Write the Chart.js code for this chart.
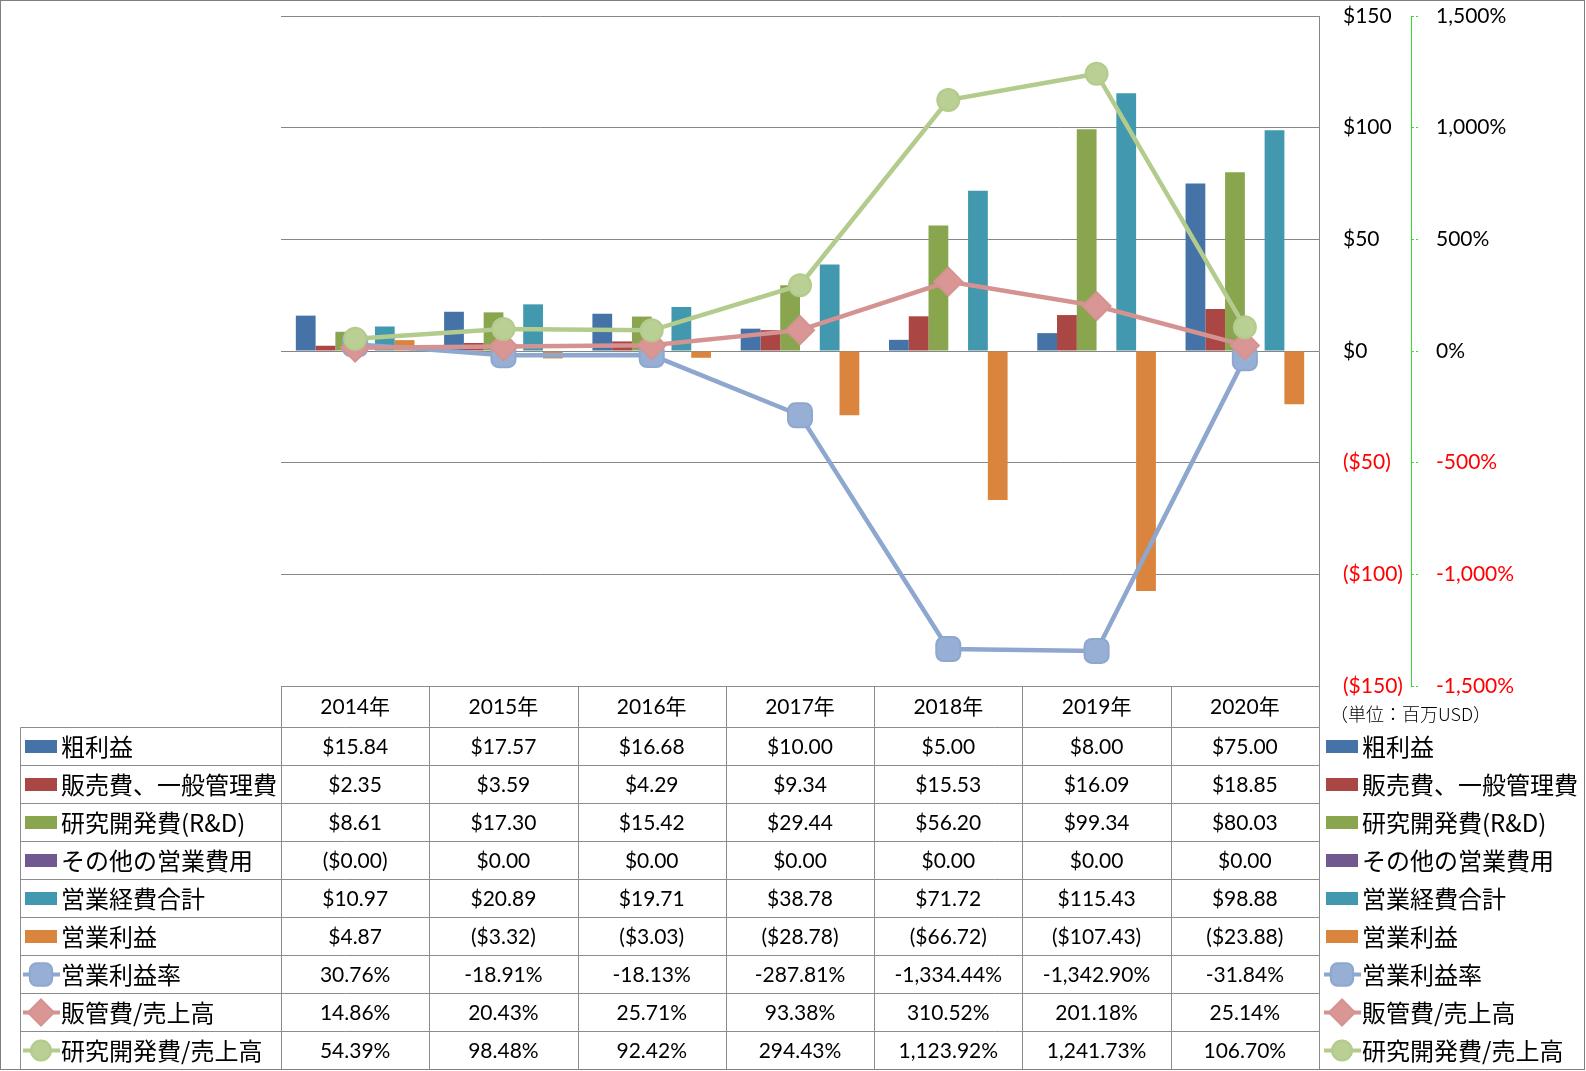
<!DOCTYPE html>
<html>
<head>
<meta charset="utf-8">
<script src="https://cdn.jsdelivr.net/npm/chart.js@4"></script>
<style>
  html, body { margin: 0; padding: 0; background: #fff; }
  canvas { display: block; }
</style>
</head>
<body>
<canvas id="chart" width="1586" height="1071"></canvas>
<script>
// categories
const years = ['2014年', '2015年', '2016年', '2017年', '2018年', '2019年', '2020年'];

// bar series (USD millions)
const grossProfit = [15.84, 17.57, 16.68, 10.00, 5.00, 8.00, 75.00];
const sgaExpense = [2.35, 3.59, 4.29, 9.34, 15.53, 16.09, 18.85];
const rdExpense = [8.61, 17.30, 15.42, 29.44, 56.20, 99.34, 80.03];
const otherOpex = [-0.001, 0, 0, 0, 0, 0, 0];
const totalOpex = [10.97, 20.89, 19.71, 38.78, 71.72, 115.43, 98.88];
const operatingIncome = [4.87, -3.32, -3.03, -28.78, -66.72, -107.43, -23.88];

// line series (percent)
const operatingMargin = [30.76, -18.91, -18.13, -287.81, -1334.44, -1342.90, -31.84];
const sgaRatio = [14.86, 20.43, 25.71, 93.38, 310.52, 201.18, 25.14];
const rdRatio = [54.39, 98.48, 92.42, 294.43, 1123.92, 1241.73, 106.70];

// axis ticks
const usdTicks = [-150, -100, -50, 0, 50, 100, 150];
const pctTicks = [-1500, -1000, -500, 0, 500, 1000, 1500];

const unitNote = '（単位：百万USD）';

const NUM_FONT = 'Lato, "Noto Sans CJK JP", sans-serif';
const JP_FONT = '"Noto Sans CJK JP", sans-serif';

function fmtUsd(v) {
    const s = '$' + Math.abs(v).toFixed(2);
    return v < 0 ? '(' + s + ')' : s;
}

function fmtPct(v) {
    return v.toLocaleString('en-US', { minimumFractionDigits: 2, maximumFractionDigits: 2 }) + '%';
}

function barSet(label, data, color) {
    return {
        type: 'bar', label: label, data: data, yAxisID: 'y',
        backgroundColor: color, borderWidth: 0, order: 10
    };
}

function lineSet(label, data, line, fill, style, radius, order) {
    return {
        type: 'line', label: label, data: data, yAxisID: 'y1',
        borderColor: line, borderWidth: 4.5, tension: 0,
        pointStyle: style, pointRadius: radius, pointBackgroundColor: fill,
        pointBorderColor: line, pointBorderWidth: 2, order: order
    };
}

// keep the axes from pushing the plot area down
function fixAxis(width) {
    return s => {
        s.width = width;
        s.paddingTop = 0;
        s.paddingBottom = 0;
    };
}

// draws the data table under the plot and the legend on the right
const dataTablePlugin = {
    id: 'dataTable',
    afterDraw(chart) {
        const ctx = chart.ctx;
        const area = chart.chartArea;
        const xs = chart.scales.x;
        const sets = chart.data.datasets;
        const colW = (area.right - area.left) / years.length;
        const headTop = Math.round(area.bottom) + 0.5;
        const bodyTop = headTop + 41;
        const rowH = 38;
        const bottom = bodyTop + rowH * sets.length;
        const tableLeft = 20.5;
        const right = Math.round(area.right) + 0.5;

        ctx.save();
        ctx.strokeStyle = '#8c8c8c';
        ctx.lineWidth = 1;
        ctx.beginPath();
        ctx.moveTo(area.left, headTop); ctx.lineTo(right, headTop);
        for (let r = 0; r <= sets.length; r++) {
            const y = bodyTop + r * rowH;
            ctx.moveTo(tableLeft, y); ctx.lineTo(right, y);
        }
        for (let c = 0; c <= years.length; c++) {
            const x = Math.round(area.left + c * colW) + 0.5;
            ctx.moveTo(x, headTop); ctx.lineTo(x, bottom);
        }
        ctx.moveTo(tableLeft, bodyTop); ctx.lineTo(tableLeft, bottom);
        ctx.stroke();

        ctx.fillStyle = '#000';
        ctx.textAlign = 'center';
        ctx.textBaseline = 'middle';
        ctx.font = '21px ' + NUM_FONT;
        years.forEach((yr, i) => {
            ctx.fillText(yr, xs.getPixelForValue(i), headTop + 21);
        });

        sets.forEach((ds, r) => {
            const cy = bodyTop + r * rowH + rowH / 2;
            ctx.font = '21px ' + NUM_FONT;
            ctx.textAlign = 'center';
            ctx.fillStyle = '#000';
            ds.data.forEach((v, i) => {
                const txt = ds.type === 'line' ? fmtPct(v) : fmtUsd(v);
                ctx.fillText(txt, xs.getPixelForValue(i), cy + 1);
            });
            drawKey(ctx, ds, 25, cy);
            drawKey(ctx, ds, 1326, cy);
        });

        ctx.font = '300 18px ' + JP_FONT;
        ctx.textAlign = 'left';
        ctx.fillStyle = '#000';
        ctx.fillText(unitNote, 1330, headTop + 28);

        // outer frame
        ctx.strokeStyle = '#7f7f7f';
        ctx.strokeRect(0.5, 0.5, 1584, 1069);
        ctx.restore();
    }
};

function drawKey(ctx, ds, x, cy) {
    ctx.save();
    if (ds.type === 'line') {
        ctx.strokeStyle = ds.borderColor;
        ctx.lineWidth = 4;
        ctx.beginPath();
        ctx.moveTo(x - 2, cy); ctx.lineTo(x + 35, cy);
        ctx.stroke();
        ctx.fillStyle = ds.pointBackgroundColor;
        ctx.strokeStyle = ds.pointBorderColor;
        ctx.lineWidth = 2;
        Chart.helpers.drawPoint(ctx, {
            pointStyle: ds.pointStyle, radius: ds.pointRadius - 1,
            borderWidth: 2, rotation: 0
        }, x + 16, cy);
    } else {
        ctx.fillStyle = ds.backgroundColor;
        ctx.fillRect(x, cy - 6.5, 32, 13);
    }
    ctx.fillStyle = '#000';
    ctx.font = '24px ' + JP_FONT;
    ctx.textAlign = 'left';
    ctx.textBaseline = 'middle';
    ctx.fillText(ds.label, x + 36, cy);
    ctx.restore();
}

new Chart(document.getElementById('chart'), {
    type: 'bar',
    data: {
        labels: years,
        datasets: [
            barSet('粗利益', grossProfit, '#4572A7'),
            barSet('販売費、一般管理費', sgaExpense, '#AA4643'),
            barSet('研究開発費(R&D)', rdExpense, '#89A54E'),
            barSet('その他の営業費用', otherOpex, '#71588F'),
            barSet('営業経費合計', totalOpex, '#4198AF'),
            barSet('営業利益', operatingIncome, '#DB843D'),
            lineSet('営業利益率', operatingMargin, '#8EA7CF', '#98AFD5', 'rectRounded', 14, 2),
            lineSet('販管費/売上高', sgaRatio, '#D49391', '#D99694', 'rectRot', 14, 1),
            lineSet('研究開発費/売上高', rdRatio, '#B3CB8C', '#B9CF93', 'circle', 11, 0)
        ]
    },
    options: {
        responsive: false,
        animation: false,
        layout: { padding: { left: 281, top: 15, right: 0, bottom: 385 } },
        datasets: { bar: { categoryPercentage: 0.8, barPercentage: 1.0 } },
        plugins: {
            legend: { display: false },
            tooltip: { enabled: false },
            title: { display: false }
        },
        scales: {
            x: { display: false },
            y: {
                position: 'right',
                weight: 0,
                min: usdTicks[0],
                max: usdTicks[usdTicks.length - 1],
                afterBuildTicks: s => { s.ticks = usdTicks.map(v => ({ value: v })); },
                afterFit: fixAxis(92),
                grid: { color: '#868686', lineWidth: 1, drawTicks: false },
                border: { display: true, color: '#868686' },
                ticks: {
                    padding: 24,
                    font: { family: NUM_FONT, size: 21 },
                    color: c => c.tick.value < 0 ? '#FF0000' : '#000000',
                    callback: v => v < 0 ? '($' + (-v) + ')' : '$' + v
                }
            },
            y1: {
                position: 'right',
                weight: 1,
                min: pctTicks[0],
                max: pctTicks[pctTicks.length - 1],
                afterBuildTicks: s => { s.ticks = pctTicks.map(v => ({ value: v })); },
                afterFit: fixAxis(175),
                grid: {
                    drawOnChartArea: false, drawTicks: true, tickLength: 8,
                    tickColor: '#39D939', tickBorderDash: [2, 2], tickWidth: 1
                },
                border: { display: true, color: '#39D939', dash: [4, 3] },
                ticks: {
                    padding: 17,
                    font: { family: NUM_FONT, size: 21 },
                    color: c => c.tick.value < 0 ? '#FF0000' : '#000000',
                    callback: v => v.toLocaleString('en-US') + '%'
                }
            }
        }
    },
    plugins: [dataTablePlugin]
});
</script>
</body>
</html>
